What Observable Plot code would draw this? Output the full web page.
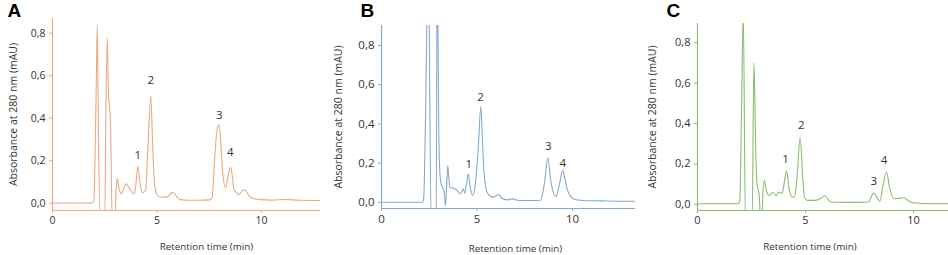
<!DOCTYPE html>
<html>
<head>
<meta charset="utf-8">
<script src="https://cdn.jsdelivr.net/npm/d3@7"></script>
<script src="https://cdn.jsdelivr.net/npm/@observablehq/plot@0.6"></script>
<style>
  html, body { margin: 0; padding: 0; background: #fff; }
  #row { display: flex; flex-direction: row; width: 948px; height: 255px; overflow: hidden; }
  #row svg { display: block; flex: none; }
</style>
</head>
<body>
<div id="row"></div>
<script>
// ---- data (retention time in min, absorbance at 280 nm in mAU) ----
const xTicks = [0, 5, 10];
const yTicks = [0, 0.2, 0.4, 0.6, 0.8];
const yLabel = "Absorbance at 280 nm (mAU)";
const xLabel = "Retention time (min)";
const panelLetters = ["A", "B", "C"];
const peakNames = ["1", "2", "3", "4"];

const traceA = [
  [0,0.001],[1.9,0.001],[1.98,0.01],[2.05,0.3],[2.10,0.6],[2.14,0.84],[2.2,0.3],[2.3,-0.1],
  [2.50,-0.1],[2.55,0.4],[2.62,0.778],[2.66,0.6],[2.69,0.483],[2.73,0.46],[2.78,0.34],[2.86,-0.1],
  [2.98,-0.1],[3.04,0.06],[3.10,0.116],[3.17,0.075],[3.30,0.044],[3.40,0.07],[3.52,0.091],[3.7,0.065],
  [3.91,0.044],[3.98,0.08],[4.08,0.173],[4.18,0.1],[4.29,0.05],[4.45,0.058],[4.58,0.3],[4.70,0.507],
  [4.80,0.25],[4.88,0.09],[5.01,0.04],[5.2,0.028],[5.5,0.03],[5.65,0.045],[5.76,0.052],[5.95,0.03],
  [6.12,0.017],[6.5,0.014],[7.0,0.014],[7.5,0.016],[7.64,0.03],[7.72,0.15],[7.84,0.32],[7.96,0.37],
  [8.04,0.3],[8.12,0.17],[8.28,0.072],[8.40,0.13],[8.52,0.169],[8.60,0.13],[8.67,0.068],[8.80,0.05],
  [8.91,0.041],[9.05,0.055],[9.20,0.063],[9.33,0.045],[9.47,0.028],[9.7,0.02],[9.95,0.017],[10.5,0.015],
  [11.2,0.018],[11.8,0.014],[12.82,0.013]
];
const traceB = [
  [0,0],[2.15,0],[2.21,0.02],[2.3,0.4],[2.45,1.3],[2.60,-0.1],[2.86,-0.1],[2.92,1.3],[3.0,0.35],
  [3.08,0.12],[3.18,0.077],[3.27,0.06],[3.35,-0.017],[3.42,0.1],[3.47,0.187],[3.52,0.13],[3.58,0.077],
  [3.75,0.072],[3.96,0.06],[4.12,0.043],[4.28,0.068],[4.36,0.046],[4.45,0.09],[4.54,0.145],[4.64,0.08],
  [4.78,0.034],[4.92,0.1],[5.06,0.264],[5.2,0.488],[5.28,0.33],[5.36,0.16],[5.53,0.051],[5.8,0.026],
  [6.14,0.038],[6.3,0.02],[6.58,0.012],[6.84,0.017],[7.19,0.009],[7.8,0.009],[8.32,0.01],[8.45,0.05],
  [8.55,0.111],[8.71,0.227],[8.86,0.111],[9.0,0.05],[9.15,0.029],[9.32,0.094],[9.49,0.162],[9.6,0.12],
  [9.72,0.068],[9.9,0.03],[10.07,0.017],[10.5,0.009],[11.5,0.007],[12.5,0.005],[13.3,0.005]
];
const traceC = [
  [0,0.003],[1.9,0.003],[1.96,0.02],[2.04,0.48],[2.12,0.95],[2.22,-0.1],[2.53,-0.1],[2.61,0.70],
  [2.65,0.55],[2.69,0.30],[2.76,0.10],[2.86,0.04],[2.93,-0.1],[2.97,-0.1],[3.03,0.06],[3.10,0.118],
  [3.2,0.06],[3.33,0.044],[3.46,0.06],[3.64,0.044],[3.76,0.06],[3.92,0.055],[4.02,0.11],[4.12,0.166],
  [4.25,0.07],[4.4,0.036],[4.5,0.04],[4.62,0.15],[4.75,0.332],[4.88,0.12],[4.95,0.036],[5.08,0.02],
  [5.46,0.02],[5.7,0.03],[5.89,0.044],[6.05,0.025],[6.16,0.012],[6.8,0.01],[7.5,0.01],[7.93,0.012],
  [8.05,0.04],[8.16,0.056],[8.3,0.035],[8.44,0.015],[8.6,0.1],[8.75,0.159],[8.9,0.08],[9.09,0.028],
  [9.3,0.03],[9.55,0.033],[9.8,0.015],[10.01,0.008],[10.8,0.003],[11.62,0.003]
];
// peak label anchor positions (time, absorbance)
const peakTimesA = [4.08, 4.70, 7.98, 8.50];
const peakLabelA = [0.224, 0.577, 0.416, 0.240];
const peakTimesB = [4.57, 5.18, 8.73, 9.49];
const peakLabelB = [0.192, 0.536, 0.284, 0.199];
const peakTimesC = [4.07, 4.80, 8.16, 8.63];
const peakLabelC = [0.225, 0.393, 0.115, 0.220];

const colors = ["#EAAA84", "#85AACB", "#8BBC70"];
const xMax = [12.82, 13.3, 11.62];
const yDomains = [[-0.034, 0.869], [-0.032, 0.902], [-0.030, 0.894]];

// ---- layout ----
const layouts = [
  {width: 322, ml: 52, mr: 2, mt: 18, mb: 45, letterDx: -45, letterDy: -8,  ylabDx: -38.5, xlabDx: 20,  xlabDy: 36, tickFont: 10.5},
  {width: 314, ml: 59, mr: 1, mt: 25, mb: 47, letterDx: -21, letterDy: -15, ylabDx: -42.5, xlabDx: 7,   xlabDy: 40, tickFont: 11.5},
  {width: 312, ml: 61, mr: 0, mt: 23, mb: 45, letterDx: -31, letterDy: -13, ylabDx: -44.5, xlabDx: -13, xlabDy: 36, tickFont: 11}
];

const traces = [traceA, traceB, traceC];
const peakT = [peakTimesA, peakTimesB, peakTimesC];
const peakV = [peakLabelA, peakLabelB, peakLabelC];
const fmt = d => d.toFixed(1).replace(".", ",");

const row = document.getElementById("row");
for (let i = 0; i < 3; i++) {
  const L = layouts[i];
  const color = colors[i];
  const [ymin, ymax] = yDomains[i];
  const data = traces[i].map(([t, v]) => ({t, v}));
  const labels = peakNames.map((n, k) => ({n, t: peakT[i][k], v: peakV[i][k]}));
  const chart = Plot.plot({
    width: L.width, height: 255,
    marginLeft: L.ml, marginRight: L.mr, marginTop: L.mt, marginBottom: L.mb,
    style: {fontFamily: "'Open Sans', 'DejaVu Sans', sans-serif", color: "#333", background: "#fff", overflow: "visible"},
    x: {domain: [0, xMax[i]]},
    y: {domain: [ymin, ymax]},
    marks: [
      Plot.axisX(xTicks, {tickSize: 3, tickPadding: 3, stroke: color, fill: "#333", label: null, tickFormat: d => String(d), fontSize: L.tickFont}),
      Plot.axisY(yTicks, {tickSize: 3, tickPadding: 4, stroke: color, fill: "#333", label: null, tickFormat: fmt, fontSize: L.tickFont}),
      Plot.ruleX([0], {stroke: color, strokeWidth: 1.2}),
      Plot.ruleY([ymin], {stroke: color, strokeWidth: 1.2}),
      Plot.line(data, {x: "t", y: "v", stroke: color, strokeWidth: 1.1, curve: "monotone-x", clip: true}),
      Plot.text(labels, {x: "t", y: "v", text: "n", fontSize: 11.5, fill: "#333"}),
      Plot.text([panelLetters[i]], {frameAnchor: "top-left", textAnchor: "start", lineAnchor: "middle", dx: L.letterDx, dy: L.letterDy, fontSize: 19, fontWeight: "bold", fill: "#000", fontFamily: "'Liberation Sans', Arial, sans-serif"}),
      Plot.text([yLabel], {frameAnchor: "left", textAnchor: "middle", lineAnchor: "middle", rotate: -90, dx: L.ylabDx, fontSize: 10.5, fill: "#333"}),
      Plot.text([xLabel], {frameAnchor: "bottom", textAnchor: "middle", lineAnchor: "middle", dx: L.xlabDx, dy: L.xlabDy, fontSize: 9.8, fill: "#333"})
    ]
  });
  row.appendChild(chart);
}
</script>
</body>
</html>
